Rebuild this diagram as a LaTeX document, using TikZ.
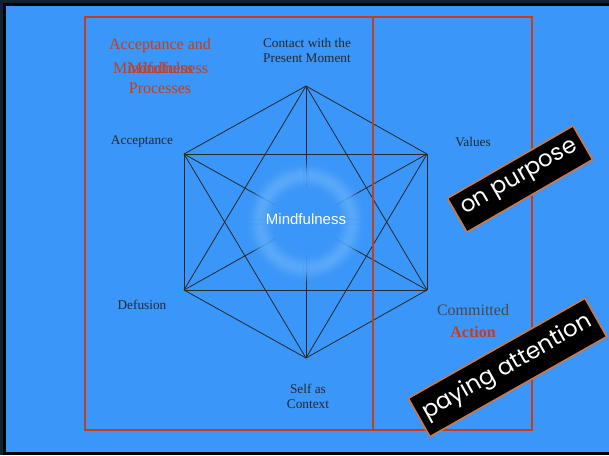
\documentclass[tikz,border=0pt]{standalone}
\usepackage{fontspec}
\setmainfont{Liberation Serif}
\newfontfamily\helv{Liberation Sans}
\newfontfamily\geo{Poppins}

\definecolor{slideblue}{RGB}{58,150,248}
\definecolor{ringblue}{RGB}{150,205,255}
\definecolor{framered}{RGB}{196,62,28}
\definecolor{tagedge}{RGB}{205,120,70}
\definecolor{labelgray}{RGB}{38,40,44}
\definecolor{softgray}{RGB}{70,72,76}
\definecolor{navy}{RGB}{16,34,52}

\tikzset{
  web/.style={draw=labelgray, line width=0.8pt},
  corner/.style={font=\fontsize{13.3}{14.8}\selectfont, text=labelgray, align=center, inner sep=0pt},
  heading/.style={font=\fontsize{16}{18}\selectfont, text=framered, align=center, inner sep=0pt},
  frame/.style={draw=framered, line width=2pt},
  tag/.style={fill=black, draw=tagedge, line width=1.6pt, text=white,
    font=\geo\fontsize{23}{25}\selectfont, inner sep=0pt, rotate=30}
}

\begin{document}
\begin{tikzpicture}[x=1pt, y=-1pt]
  \useasboundingbox (0,0) rectangle (609,455);

  % slide background and dark edge
  \fill[navy] (0,0) rectangle (609,455);
  \fill[black] (3,2.5) rectangle (609,455);
  \fill[slideblue] (6,5.5) rectangle (609,452);

  % hexagon corners
  \coordinate (T)  at (306,86);
  \coordinate (UL) at (184,154);
  \coordinate (UR) at (427,154);
  \coordinate (LL) at (184,290);
  \coordinate (LR) at (427,290);
  \coordinate (B)  at (306,358);
  \coordinate (C)  at (306,222);

  % every corner joined to every other one
  \foreach \a/\b in {T/UR, UR/LR, LR/B, B/LL, LL/UL, UL/T,
                     T/LL, LL/LR, LR/T, UL/UR, UR/B, B/UL,
                     T/B, UL/LR, UR/LL}
    \draw[web] (\a) -- (\b);

  % halo in the middle: the lines fade out towards the centre ...
  \foreach \r in {60,59,...,36}
    \fill[slideblue, opacity=0.1] (C) circle (\r);
  \fill[slideblue] (C) circle (35);
  % ... under a soft pale ring
  \foreach \r in {24,25,...,68}{
    \pgfmathsetmacro\ringop{0.3*exp(-((\r-46)/8.5)^2)}
    \draw[ringblue, opacity=\ringop, line width=1.1pt] (C) circle (\r);
  }
  \node[font=\helv\fontsize{15}{17}\selectfont, text=white] (mind) at (306,219) {Mindfulness};

  % corner labels
  \node[corner] (contact) at (307,50.5) {Contact with the\\Present Moment};
  \node[corner] (accept)  at (142,142) {Acceptance};
  \node[corner] (values)  at (473,142) {Values};
  \node[corner] (defus)   at (142,305) {Defusion};
  \node[corner] (selfctx) at (308,396) {Self as\\Context};
  \node[heading, text=softgray] (commit) at (473,310) {Committed};
  \node[heading, font=\bfseries\fontsize{16}{18}\selectfont] (action) at (473,332) {Action};

  % group heading
  \node[heading] (acc)   at (160,46) {Acceptance and};
  \node[heading] (mfa)   at (153,68) {Mindfulness};
  \node[heading] (mfb)   at (168,68) {Mindfulness};
  \node[heading] (proc)  at (160,88) {Processes};

  % the two framed halves
  \draw[frame] (85,17) rectangle (532,430);
  \draw[frame] (373,17) -- (373,430);

  % slanted tags
  \node[tag, minimum width=145pt, minimum height=39pt] (purpose) at (520,179) {on purpose};
  \node[tag, minimum width=203pt, minimum height=44pt, rotate=-0.5] (attn) at (507.5,367.5) {paying attention};
\end{tikzpicture}
\end{document}
